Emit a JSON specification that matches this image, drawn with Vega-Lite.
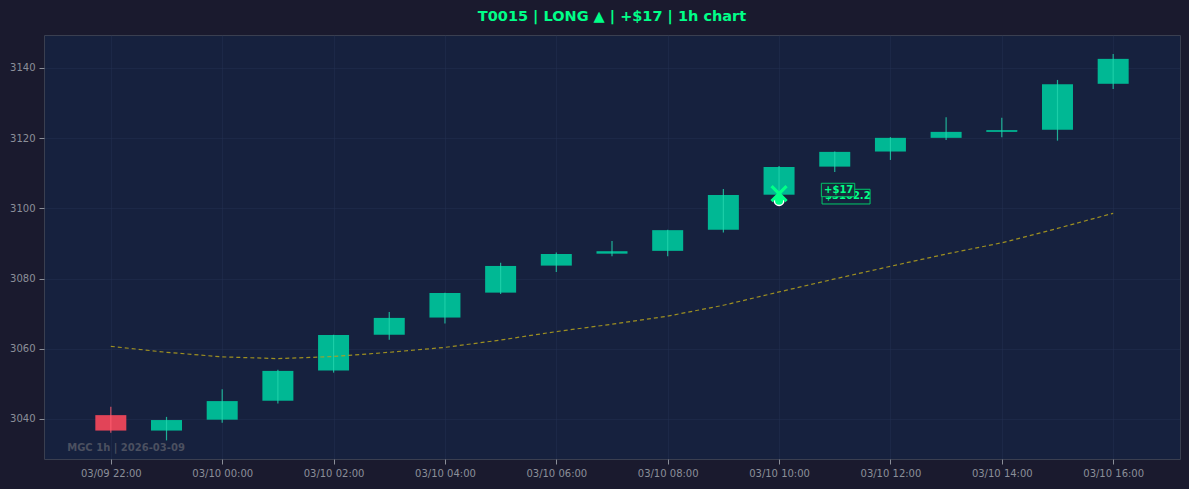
{
  "$schema": "https://vega.github.io/schema/vega-lite/v6.json",
  "width": 1136,
  "height": 424,
  "autosize": {"type": "none"},
  "padding": {"left": 44, "top": 35, "right": 9, "bottom": 30},
  "background": "#1a1a2e",
  "title": {
    "text": "T0015 | LONG ▲ | +$17 | 1h chart",
    "color": "#00ff88",
    "font": "DejaVu Sans",
    "fontSize": 14.5,
    "fontWeight": "bold",
    "anchor": "middle",
    "offset": 11
  },
  "config": {
    "view": {"fill": "#16213e", "stroke": "#3a3f50", "strokeWidth": 1},
    "axis": {
      "labelColor": "#8b8f99",
      "labelFont": "DejaVu Sans",
      "labelFontSize": 10,
      "tickColor": "#8b8f99",
      "tickSize": 5,
      "domain": false,
      "gridColor": "#243052",
      "gridOpacity": 0.45,
      "title": null
    }
  },
  "datasets": {
    "candles": [
      {"t": "2026-03-09T22:00:00Z", "open": 3041.1, "high": 3043.5, "low": 3036.1, "close": 3036.7, "ma": 3060.7},
      {"t": "2026-03-09T23:00:00Z", "open": 3036.7, "high": 3040.6, "low": 3033.9, "close": 3039.7, "ma": 3059.0},
      {"t": "2026-03-10T00:00:00Z", "open": 3039.8, "high": 3048.5, "low": 3038.9, "close": 3045.1, "ma": 3057.7},
      {"t": "2026-03-10T01:00:00Z", "open": 3045.2, "high": 3054.0, "low": 3044.4, "close": 3053.7, "ma": 3057.2},
      {"t": "2026-03-10T02:00:00Z", "open": 3053.8, "high": 3064.0, "low": 3053.2, "close": 3063.9, "ma": 3057.8},
      {"t": "2026-03-10T03:00:00Z", "open": 3064.0, "high": 3070.5, "low": 3062.6, "close": 3068.8, "ma": 3059.0},
      {"t": "2026-03-10T04:00:00Z", "open": 3068.9, "high": 3076.0, "low": 3067.2, "close": 3075.9, "ma": 3060.4},
      {"t": "2026-03-10T05:00:00Z", "open": 3076.0, "high": 3084.5, "low": 3075.6, "close": 3083.6, "ma": 3062.5},
      {"t": "2026-03-10T06:00:00Z", "open": 3083.7, "high": 3087.4, "low": 3081.9, "close": 3087.0, "ma": 3064.9},
      {"t": "2026-03-10T07:00:00Z", "open": 3087.1, "high": 3090.7, "low": 3086.4, "close": 3087.8, "ma": 3067.0},
      {"t": "2026-03-10T08:00:00Z", "open": 3087.9, "high": 3093.9, "low": 3086.4, "close": 3093.8, "ma": 3069.3},
      {"t": "2026-03-10T09:00:00Z", "open": 3093.9, "high": 3105.5, "low": 3093.1, "close": 3103.8, "ma": 3072.4},
      {"t": "2026-03-10T10:00:00Z", "open": 3103.9, "high": 3112.1, "low": 3103.5, "close": 3111.8, "ma": 3076.2},
      {"t": "2026-03-10T11:00:00Z", "open": 3111.9, "high": 3116.2, "low": 3110.4, "close": 3116.1, "ma": 3079.9},
      {"t": "2026-03-10T12:00:00Z", "open": 3116.2, "high": 3120.3, "low": 3113.8, "close": 3120.1, "ma": 3083.5},
      {"t": "2026-03-10T13:00:00Z", "open": 3120.1, "high": 3126.0, "low": 3119.5, "close": 3121.8, "ma": 3087.0},
      {"t": "2026-03-10T14:00:00Z", "open": 3121.8, "high": 3125.8, "low": 3120.3, "close": 3122.3, "ma": 3090.2},
      {"t": "2026-03-10T15:00:00Z", "open": 3122.4, "high": 3136.6, "low": 3119.3, "close": 3135.4, "ma": 3094.3},
      {"t": "2026-03-10T16:00:00Z", "open": 3135.5, "high": 3144.0, "low": 3134.0, "close": 3142.6, "ma": 3098.6}
    ],
    "exitpt": [
      {"t": "2026-03-10T10:00:00Z", "price": 3102.2, "pnl": "+$17", "label": "$3102.2"}
    ],
    "stamp": [
      {"t": "2026-03-09T21:13:00Z", "price": 3031.7, "note": "MGC 1h | 2026-03-09"}
    ]
  },
  "encoding": {
    "x": {
      "field": "t",
      "type": "temporal",
      "scale": {"domain": [1773089280000, 1773162720000], "padding": 0, "nice": false},
      "axis": {
        "labelExpr": "utcFormat(datum.value, '%m/%d %H:%M')",
        "values": [1773093600000, 1773100800000, 1773108000000, 1773115200000, 1773122400000, 1773129600000, 1773136800000, 1773144000000, 1773151200000, 1773158400000],
        "labelPadding": 4,
        "labelFlush": false,
        "labelOverlap": false
      }
    }
  },
  "layer": [
    {
      "data": {"name": "candles"},
      "mark": {"type": "bar", "size": 31, "opacity": 1},
      "encoding": {
        "y": {
          "field": "open",
          "type": "quantitative",
          "scale": {"domain": [3028.6, 3149.4], "nice": false, "zero": false, "padding": 0},
          "axis": {"values": [3040, 3060, 3080, 3100, 3120, 3140], "format": "d", "labelPadding": 4}
        },
        "y2": {"field": "close"},
        "color": {
          "condition": {"test": "datum.close >= datum.open", "value": "#00b894"},
          "value": "#e24458"
        }
      }
    },
    {
      "data": {"name": "candles"},
      "mark": {"type": "rule", "strokeWidth": 1.2, "opacity": 0.8},
      "encoding": {
        "y": {"field": "low", "type": "quantitative"},
        "y2": {"field": "high"},
        "color": {
          "condition": {"test": "datum.close >= datum.open", "value": "#22d3ad"},
          "value": "#ff5c70"
        }
      }
    },
    {
      "data": {"name": "candles"},
      "mark": {"type": "line", "color": "#b5a21c", "strokeWidth": 1.2, "strokeDash": [4, 3], "opacity": 0.85},
      "encoding": {
        "y": {"field": "ma", "type": "quantitative"}
      }
    },
    {
      "data": {"name": "exitpt"},
      "mark": {"type": "point", "shape": "circle", "size": 90, "filled": true, "fill": "#00ff88", "stroke": "#ffffff", "strokeWidth": 1.5, "opacity": 1},
      "encoding": {"y": {"field": "price", "type": "quantitative"}}
    },
    {
      "data": {"name": "exitpt"},
      "mark": {"type": "point", "shape": "M0,-1.5L1,-0.3L0,0.9L-1,-0.3Z", "size": 64, "filled": true, "fill": "#00ff88", "strokeWidth": 0, "opacity": 1},
      "encoding": {"y": {"field": "price", "type": "quantitative"}}
    },
    {
      "data": {"name": "exitpt"},
      "mark": {"type": "point", "shape": "M-1,-1.95L1,0.05M1,-1.95L-1,0.05", "size": 225, "filled": false, "stroke": "#00ff88", "strokeWidth": 3.2, "opacity": 1},
      "encoding": {"y": {"field": "price", "type": "quantitative"}}
    },
    {
      "data": {"name": "exitpt"},
      "mark": {"type": "point", "shape": "M4.3,-1.14H9.1V0.33H4.3Z", "size": 400, "filled": true, "fill": "#16213e", "stroke": "#00cc6a", "strokeWidth": 1, "opacity": 1},
      "encoding": {"y": {"field": "price", "type": "quantitative"}}
    },
    {
      "data": {"name": "exitpt"},
      "mark": {"type": "text", "align": "left", "baseline": "middle", "dx": 46, "dy": -4.3, "font": "DejaVu Sans", "fontSize": 10, "fontWeight": "bold", "color": "#00ff88"},
      "encoding": {
        "y": {"field": "price", "type": "quantitative"},
        "text": {"field": "label"}
      }
    },
    {
      "data": {"name": "exitpt"},
      "mark": {"type": "point", "shape": "M4.23,-1.74H7.57V-0.4H4.23Z", "size": 400, "filled": true, "fill": "#182a3c", "stroke": "#00cc6a", "strokeWidth": 1, "opacity": 0.95},
      "encoding": {"y": {"field": "price", "type": "quantitative"}}
    },
    {
      "data": {"name": "exitpt"},
      "mark": {"type": "text", "align": "left", "baseline": "middle", "dx": 45, "dy": -10.7, "font": "DejaVu Sans", "fontSize": 10, "fontWeight": "bold", "color": "#00ff88"},
      "encoding": {
        "y": {"field": "price", "type": "quantitative"},
        "text": {"field": "pnl"}
      }
    },
    {
      "data": {"name": "stamp"},
      "mark": {"type": "text", "align": "left", "baseline": "middle", "font": "DejaVu Sans", "fontSize": 10, "fontWeight": "bold", "color": "#4b5060"},
      "encoding": {
        "y": {"field": "price", "type": "quantitative"},
        "text": {"field": "note"}
      }
    }
  ]
}
